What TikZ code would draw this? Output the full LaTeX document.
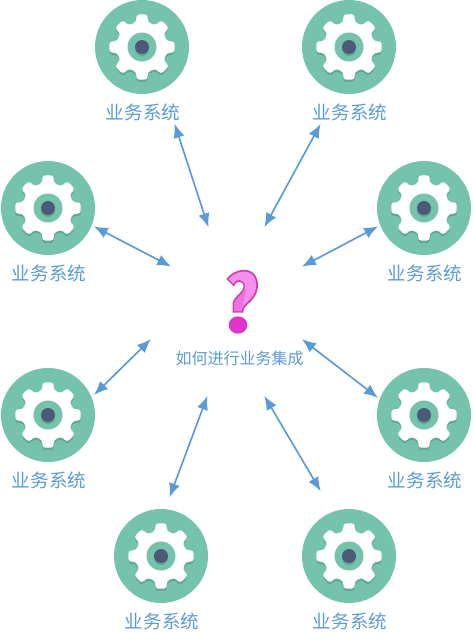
\documentclass[tikz,border=0pt]{standalone}
\usepackage{fontspec}
\newfontfamily\cjk{Noto Sans CJK SC}
\usetikzlibrary{arrows.meta}
\definecolor{teal1}{HTML}{76C3AD}
\definecolor{teal2}{HTML}{5FAA97}
\definecolor{dot1}{HTML}{4C5A78}
\definecolor{lab}{HTML}{5B9BD5}
\definecolor{pk1}{HTML}{EE6FDD}
\definecolor{pk0}{HTML}{F68FEA}
\definecolor{pk2}{HTML}{C83FB4}
\definecolor{pk3}{HTML}{E035CC}
\newcommand{\geartooth}[1]{(#1+13.5:25.5) -- (#1+9.5:33) -- (#1-9.5:33) -- (#1-13.5:25.5)}
\newcommand{\gearoutline}{\geartooth{90} -- \geartooth{45} -- \geartooth{0} -- \geartooth{-45} -- \geartooth{-90} -- \geartooth{-135} -- \geartooth{180} -- \geartooth{135} -- cycle}
\tikzset{
  x=0.75pt,y=-0.75pt,
  syslabel/.style={text=lab,font=\cjk\fontsize{13.9}{16}\selectfont,inner sep=0pt},
  titlelabel/.style={text=lab,font=\cjk\fontsize{12}{14}\selectfont,inner sep=0pt},
  link/.style={draw=lab,line width=1.25pt,shorten >=-1pt,shorten <=-1pt,{Latex[length=10.5pt,width=8.5pt]}-{Latex[length=10.5pt,width=8.5pt]}},
  pics/sysgear/.style={code={
    \fill[teal1] (0,0) circle (47);
    \begin{scope}[yshift=-1.8pt]
      \fill[teal2,rounded corners=2pt] \gearoutline;
    \end{scope}
    \fill[white,rounded corners=2pt] \gearoutline;
    \fill[teal1] (0,0) circle (14.5);
    \fill[teal2] (0,2.2) circle (7);
    \fill[dot1] (0,0) circle (7);
  }}
}
\begin{document}
\begin{tikzpicture}
\useasboundingbox (0,0) rectangle (472,640);
\foreach \n/\x/\y in {a/142/47,b/349/47,c/48/208,d/424/208,e/48/415,f/424/415,g/161/556,h/349/556}{
  \pic at (\x,\y) {sysgear};
  \node[syslabel] (\n) at (\x+1,\y+65.5) {业务系统};
}
\foreach \n/\x/\y in {a1/175/125,a2/208/226,b1/320/125,b2/265/226,c1/95/227,c2/170/266,d1/377/227,d2/303/266,e1/95/394,e2/150/340,f1/377/397,f2/303/340,g1/170/496,g2/207/397,h1/320/490,h2/265/397}{
  \coordinate (\n) at (\x,\y);
}
\foreach \n in {a,b,c,d,e,f,g,h}{ \draw[link] (\n1) -- (\n2); }
% question mark
\fill[pk2] (226.5,279) .. controls (232,271) and (243,268) .. (250,271)
  .. controls (259,275) and (260,288) .. (255,296)
  .. controls (251,303) and (243,306) .. (243,312.5)
  -- (232.5,312.5) -- (232.5,303)
  .. controls (235,295) and (243.5,292) .. (243.5,287)
  .. controls (243.5,280) and (236,280) .. (234,286.5) -- cycle;
\fill[pk0] (228.5,279) .. controls (233,273) and (243,270) .. (249,272.5)
  .. controls (257,276) and (258,287) .. (253.5,295)
  .. controls (249,302) and (241.5,305) .. (241.5,311)
  -- (234,311) -- (234,304)
  .. controls (236,297) and (245,293) .. (245,287)
  .. controls (245,278) and (235,278) .. (233.5,284) -- cycle;
\fill[pk1] (234,311) -- (234,304) .. controls (236,297) and (245,293) .. (245,287)
  .. controls (248,293) and (241.5,303) .. (241.5,311) -- cycle;
\fill[pk3] (238,325) ellipse (9.3 and 8.7);
\node[titlelabel] (title) at (239.5,358) {如何进行业务集成};
\end{tikzpicture}
\end{document}
